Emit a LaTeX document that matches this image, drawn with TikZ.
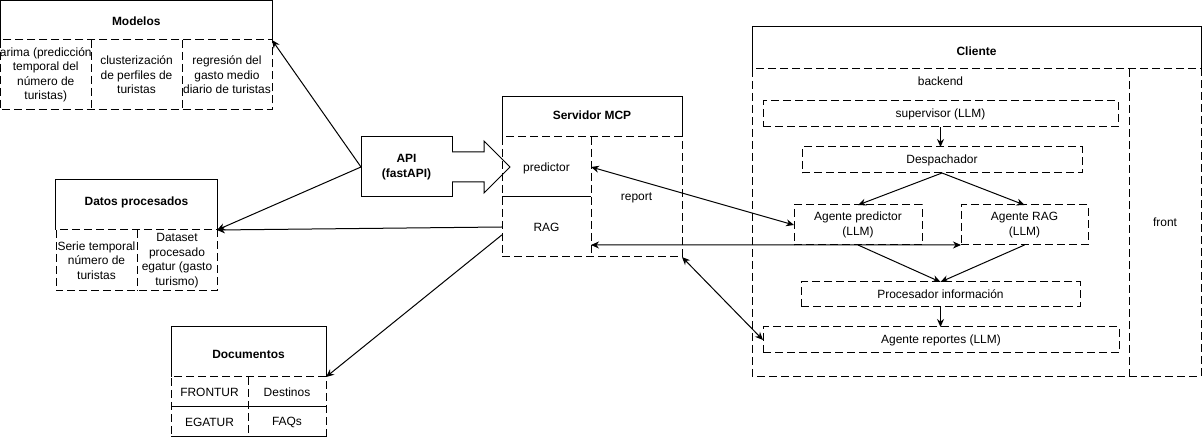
\documentclass[tikz,border=0pt]{standalone}
\usepackage{fontspec}
\setmainfont{Liberation Sans}
\usetikzlibrary{arrows.meta}
\begin{document}
\begin{tikzpicture}[x=1bp,y=-1bp,
  every node/.style={font=\fontsize{12pt}{14.5pt}\selectfont, inner sep=0pt, outer sep=0pt, align=center},
  solidln/.style={draw, line width=1bp},
  dashln/.style={draw, line width=1bp, dash pattern=on 8bp off 4bp},
  dashbox/.style={draw, line width=1bp, dash pattern=on 8bp off 4bp},
  ttl/.style={font=\fontsize{12pt}{14.5pt}\selectfont\bfseries},
  conn/.style={line width=1bp, -{Stealth[length=8bp,width=7bp]}},
  dconn/.style={line width=1bp, {Stealth[length=8bp,width=7bp]}-{Stealth[length=8bp,width=7bp]}},
  wh/.style n args={2}{minimum width=#1bp, minimum height=#2bp}
]
\useasboundingbox (0,0) rectangle (1202,438);

% ---------- Modelos ----------
\node[wh={271.5}{39.5}] (modhead) at (136.25,20.25) {};
\node[ttl] (modtitle) at ([yshift=-1bp]modhead.center) {Modelos};
\node[wh={90.5}{70}] (modc1) at (45.75,75) {};
\node[wh={91}{70}] (modc2) at (136.5,75) {};
\node[wh={90}{70}] (modc3) at (227,75) {};
\draw[solidln] (modhead.south west) -- (modhead.north west) -- (modhead.north east) -- (modhead.south east);
\draw[dashln] (modc1.north west) rectangle (modc3.south east);
\draw[dashln] (modc1.north east) -- (modc1.south east);
\draw[dashln] (modc2.north east) -- (modc2.south east);
\node (modt1) at (modc1.center) {arima (predicción\\temporal del\\número de\\turistas)};
\node (modt2) at (modc2.center) {clusterización\\de perfiles de\\turistas};
\node (modt3) at (modc3.center) {regresión del\\gasto medio\\diario de turistas};

% ---------- Datos procesados ----------
\node[wh={161}{50}] (dathead) at (136.5,205) {};
\node[ttl] (dattitle) at ([yshift=3bp]dathead.center) {Datos procesados};
\node[wh={81}{61}] (datc1) at (96.5,260.5) {};
\node[wh={80}{61}] (datc2) at (177,260.5) {};
\draw[solidln] (dathead.south west) -- (dathead.north west) -- (dathead.north east) -- (dathead.south east);
\draw[dashln] (datc1.north west) rectangle (datc2.south east);
\draw[dashln] (datc1.north east) -- (datc1.south east);
\node (datt1) at (datc1.center) {Serie temporal\\número de\\turistas};
\node (datt2) at (datc2.center) {Dataset\\procesado\\egatur (gasto\\turismo)};

% ---------- Documentos ----------
\node[wh={155}{50}] (dochead) at (248.5,352) {};
\node[ttl] (doctitle) at ([yshift=-2bp]dochead.center) {Documentos};
\node[wh={77}{30}] (docc1) at (209.5,392) {};
\node[wh={78}{30}] (docc2) at (287,392) {};
\node[wh={77}{30}] (docc3) at (209.5,422) {};
\node[wh={78}{30}] (docc4) at (287,422) {};
\draw[solidln] (dochead.south west) -- (dochead.north west) -- (dochead.north east) -- (dochead.south east);
\draw[dashln] (docc4.south east) -- (docc2.north east) -- (docc1.north west) -- (docc3.south west);
\draw[solidln] (docc3.south west) -- (docc4.south east);
\draw[solidln] (docc1.south west) -- (docc2.south east);
\draw[dashln] (docc1.north east) -- (docc3.south east);
\node (doct1) at (docc1.center) {FRONTUR};
\node (doct2) at (docc2.center) {Destinos};
\node (doct3) at (docc3.center) {EGATUR};
\node (doct4) at (docc4.center) {FAQs};

% ---------- API ----------
\node[solidln, wh={91}{60}, ttl] (api) at (406.5,167) {API\\(fastAPI)};

% block arrow
\draw[line width=1bp, fill=white] (api.east) ++(0,-15) -- ++(32,0) -- ++(0,-11) -- ++(26,26) -- ++(-26,26) -- ++(0,-11) -- ++(-32,0);

% ---------- Servidor MCP ----------
\node[wh={180}{40}] (mcphead) at (592,117) {};
\node[ttl] (mcptitle) at ([yshift=2bp]mcphead.center) {Servidor MCP};
\node[wh={89}{60}] (pred) at (546.5,167) {};
\node[wh={89}{60}] (rag) at (546.5,227) {};
\node[wh={91}{120}] (report) at (636.5,197) {};
\draw[solidln] (mcphead.south west) -- (mcphead.north west) -- (mcphead.north east) -- (mcphead.south east);
\draw[dashln] (pred.north west) rectangle (report.south east);
\draw[dashln] (pred.north east) -- (rag.south east);
\draw[solidln] (pred.south west) -- (pred.south east);
\node (predt) at ([yshift=-1bp]pred.center) {predictor};
\node (ragt) at (rag.center) {RAG};
\node (reportt) at ([yshift=-1bp]report.center) {report};

% ---------- Cliente ----------
\node[wh={449}{42}] (clihead) at (976.5,48) {};
\node[ttl] (clititle) at ([yshift=-3bp]clihead.center) {Cliente};
\node[wh={377}{307}] (backend) at (940.5,222.5) {};
\node[wh={72}{307}] (front) at (1165,222.5) {};
\draw[solidln] (clihead.south west) -- (clihead.north west) -- (clihead.north east) -- (clihead.south east);
\draw[dashln] (backend.north west) rectangle (front.south east);
\draw[dashln] (backend.north east) -- (backend.south east);
\node (backendt) at (940.5,81) {backend};
\node (frontt) at (front.center) {front};

\node[dashbox, wh={355}{26}] (sup) at (940.5,114) {supervisor (LLM)};
\node[dashbox, wh={280}{26}] (desp) at (942,160) {Despachador};
\node[dashbox, wh={128}{40}] (agpred) at (858,225) {};
\node (agpredt) at (agpred.center) {Agente predictor\\(LLM)};
\node[dashbox, wh={127}{40}] (agrag) at (1024.5,225) {};
\node (agragt) at (agrag.center) {Agente RAG\\(LLM)};
\node[dashbox, wh={279}{25}] (proc) at (940.5,294.5) {Procesador información};
\node[dashbox, wh={356}{26}] (agrep) at (941,340) {Agente reportes (LLM)};

% ---------- connectors ----------
\draw[conn] (api.west) -- (modhead.south east);
\draw[conn] (api.west) -- (dathead.south east);
\draw[conn] (rag.west) -- (dathead.south east);
\draw[conn] (rag.190) -- (dochead.south east);
\draw[dconn] (pred.east) -- (agpred.west);
\draw[dconn] ([yshift=12bp]rag.south east) -- (agrag.south west);
\draw[dconn] (report.south east) -- (agrep.west);

\draw[conn] (sup.south) -- (sup.south |- desp.north);
\draw[conn] (desp.south) -- (agpred.north);
\draw[conn] (desp.south) -- (agrag.north);
\draw[conn] (agpred.south) -- (proc.north);
\draw[conn] (agrag.south) -- (proc.north);
\draw[conn] (proc.south) -- (proc.south |- agrep.north);
\end{tikzpicture}
\end{document}
